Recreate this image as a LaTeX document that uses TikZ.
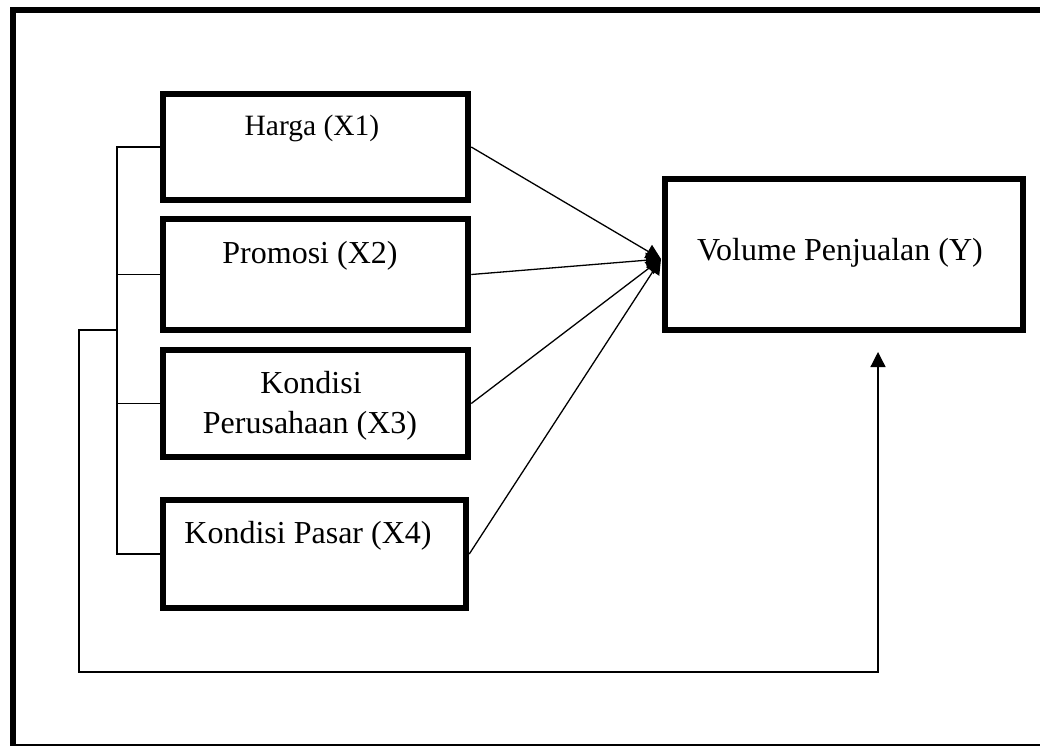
\documentclass[tikz,border=0pt]{standalone}
\usepackage{fontspec}
\setmainfont{Liberation Serif}
\usetikzlibrary{arrows.meta}
\tikzset{
  box/.style={draw=black, line width=6.5pt, rectangle, inner sep=0pt},
  lbl/.style={anchor=base, inner sep=0pt, font=\fontsize{32}{38}\selectfont},
  conn/.style={draw=black, line width=1.3pt},
  arr/.style={conn, -{Triangle[width=15pt,length=15pt]}},
}
\begin{document}
\begin{tikzpicture}[x=1pt,y=-1pt]
\useasboundingbox (0,0) rectangle (1040,745);
% outer frame (right edge runs past the picture)
\draw[line width=6pt] (13,10) rectangle (1046,747);

% boxes
\node[box, minimum width=305pt, minimum height=106pt] (b1) at (315.5,147) {};
\node[box, minimum width=305pt, minimum height=111pt] (b2) at (315.5,274.5) {};
\node[box, minimum width=305pt, minimum height=107pt] (b3) at (315.5,403.5) {};
\node[box, minimum width=303pt, minimum height=108pt] (b4) at (314.5,554) {};
\node[box, minimum width=358pt, minimum height=151pt] (y) at (844,254.5) {};

% labels
\node[lbl, font=\fontsize{29.5}{35}\selectfont] (t1) at (312,135) {Harga (X1)};
\node[lbl] (t2) at (310,263) {Promosi (X2)};
\node[lbl] (t3a) at (311,393) {Kondisi};
\node[lbl] (t3b) at (310,433) {Perusahaan (X3)};
\node[lbl] (t4) at (308,543) {Kondisi Pasar (X4)};
\node[lbl] (ty) at (840,260) {Volume Penjualan (Y)};

% left bracket
\coordinate (bx) at (117,0);
\draw[conn] (b1.west) -- (b1.west -| bx) -- (b4.west -| bx) -- (b4.west);
\draw[conn] (b2.west) -- (b2.west -| bx);
\draw[conn] (b3.west) -- (b3.west -| bx);

% converging arrows
\coordinate (conv) at (661,259);
\draw[arr] (b1.east) -- (conv);
\draw[arr] (b2.east) -- (conv);
\draw[arr] (b3.east) -- (conv);
\draw[arr] (b4.east) -- (conv);

% feedback path
\coordinate (fb0) at (117,330);
\coordinate (fbc) at (79,672);
\coordinate (fbtip) at (878,352);
\draw[arr] (fb0) -| (fbc) -| (fbtip);
\end{tikzpicture}
\end{document}
